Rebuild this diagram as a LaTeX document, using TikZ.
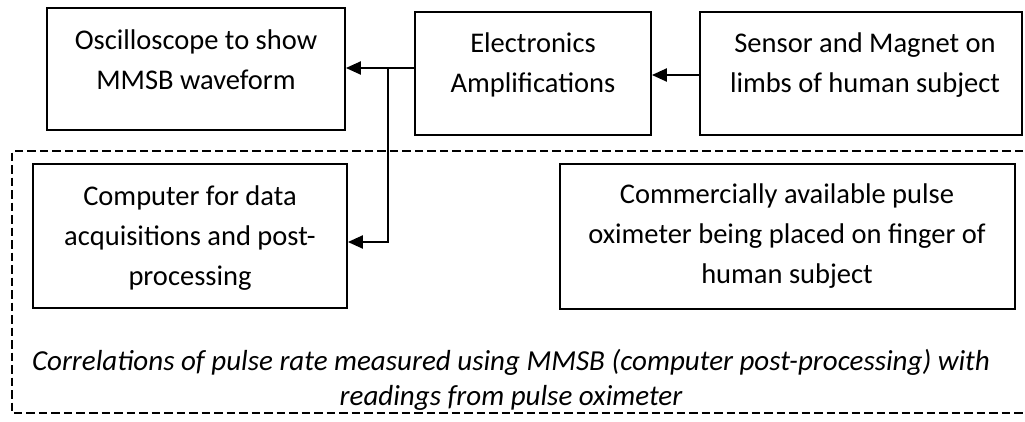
\documentclass[tikz,border=0pt]{standalone}
\usepackage{fontspec}
\setmainfont{Carlito}
\usetikzlibrary{arrows.meta}
\begin{document}
\begin{tikzpicture}[x=1pt,y=-1pt,
  blockbox/.style={draw,line width=1.8pt,minimum width=#1},
  blocktext/.style={align=center,inner sep=0pt,font=\fontsize{28.5}{40}\selectfont},
  flow/.style={line width=2.2pt,-{Triangle[length=15pt,width=13pt]}},
  groupframe/.style={draw,line width=1.4pt,dash pattern=on 8.5pt off 4pt}]
\useasboundingbox (0,0) rectangle (1025,421);

% dashed frame around the computer-side stage
\draw[groupframe] (1023,151) -- (12,151) -- (12,413) -- (1023,413);

% boxes
\node[blockbox=298pt,minimum height=122pt] (osc) at (196,69) {};
\node[blockbox=236pt,minimum height=123pt] (elec) at (533,73.5) {};
\node[blockbox=322pt,minimum height=123pt] (sens) at (861,73.5) {};
\node[blockbox=314pt,minimum height=144pt] (comp) at (190,236) {};
\node[blockbox=455pt,minimum height=145pt] (oxi) at (787.5,236.5) {};

% box labels
\node[blocktext] (osct) at (196,60) {Oscilloscope to show\\MMSB waveform};
\node[blocktext] (elect) at (533,65) {Electronics\\Amplifications};
\node[blocktext] (senst) at (865,65) {Sensor and Magnet on\\limbs of human subject};
\node[blocktext] (compt) at (190,238) {Computer for data\\acquisitions and post-\\processing};
\node[blocktext] (oxit) at (787,236) {Commercially available pulse\\oximeter being placed on finger of\\human subject};

\node[align=center,inner sep=0pt,font=\fontsize{29}{35}\selectfont\itshape] (note) at (511,380)
  {Correlations of pulse rate measured using MMSB (computer post-processing) with\\readings from pulse oximeter};

% connectors
\coordinate (j) at (388,68);
\coordinate (k) at (388,242);
\coordinate (s) at (0,75);
\draw[flow] (elec.west |- j) -- (osc.east |- j);
\draw[flow] (j) -- (k) -- (comp.east |- k);
\draw[flow] (sens.west |- s) -- (elec.east |- s);
\end{tikzpicture}
\end{document}
